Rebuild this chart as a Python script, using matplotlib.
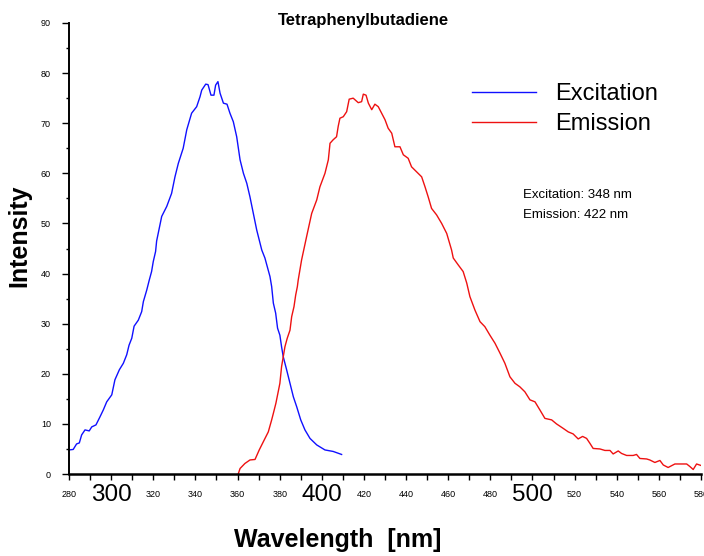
import matplotlib
matplotlib.use('Agg')
import matplotlib.pyplot as plt
from matplotlib.ticker import MultipleLocator

plt.rcParams['font.family'] = ['Liberation Sans', 'DejaVu Sans']

# ==================== data ====================
ex_wl = [280.0, 282.0, 283.6, 284.9, 286.0, 287.6, 289.6, 290.8, 292.8, 294.7,
         296.3, 297.9, 300.3, 301.8, 303.9, 305.8, 307.4, 308.5, 309.8, 310.9,
         312.9, 314.5, 315.3, 316.9, 318.1, 319.2, 320.0, 321.1, 321.6, 324.0,
         326.4, 328.7, 330.3, 331.9, 334.2, 335.9, 338.2, 340.6, 342.2, 343.0,
         344.9, 346.0, 347.4, 348.8, 349.6, 350.7, 351.7, 353.3, 355.0, 356.4,
         358.0, 359.6, 361.2, 362.8, 364.4, 365.9, 367.5, 369.1, 371.5, 373.0,
         374.1, 375.4, 376.2, 377.0, 378.1, 379.0, 380.1, 380.9, 381.7, 383.3,
         384.9, 386.5, 388.1, 390.0, 392.0, 394.4, 397.6, 401.5, 405.4, 409.4]
ex_int = [4.8, 4.9, 6.0, 6.2, 7.8, 8.8, 8.6, 9.4, 9.8, 11.4,
          12.8, 14.4, 15.8, 18.8, 20.8, 22.1, 23.8, 25.7, 27.1, 29.5,
          30.7, 32.4, 34.4, 36.7, 38.7, 40.4, 42.4, 44.4, 46.5, 51.4,
          53.4, 56.0, 59.3, 62.0, 65.0, 68.7, 72.0, 73.3, 75.3, 76.6,
          77.8, 77.7, 75.6, 75.6, 77.6, 78.3, 76.0, 74.0, 73.8, 72.0,
          70.3, 67.3, 62.7, 60.0, 58.0, 55.3, 52.0, 48.7, 44.7, 43.1,
          41.4, 39.4, 37.4, 34.1, 32.1, 29.1, 27.7, 25.4, 23.4, 20.8,
          18.1, 15.4, 13.4, 10.8, 8.8, 7.1, 5.8, 4.8, 4.5, 3.9]

em_wl = [360.4, 361.2, 363.5, 365.9, 368.3, 370.3, 372.2, 374.6, 376.2, 377.0,
         378.2, 379.3, 380.1, 380.9, 381.7, 382.5, 383.6, 384.9, 385.7, 386.8,
         387.6, 388.4, 388.8, 389.6, 390.4, 392.8, 395.2, 397.6, 399.1, 401.5,
         403.1, 403.9, 405.4, 407.0, 407.8, 408.6, 410.2, 411.8, 413.0, 414.9,
         417.3, 418.9, 419.7, 421.0, 422.1, 423.7, 425.2, 426.8, 428.4, 430.0,
         431.5, 433.2, 434.7, 437.1, 438.7, 441.0, 442.6, 445.0, 447.4, 449.0,
         450.5, 452.1, 454.5, 456.9, 459.3, 461.6, 462.4, 464.8, 467.1, 468.8,
         470.3, 472.7, 475.1, 477.4, 479.8, 482.2, 484.6, 486.9, 489.3, 491.7,
         494.0, 496.4, 498.8, 501.2, 503.5, 505.9, 509.1, 511.4, 514.6, 517.0,
         519.3, 521.7, 523.8, 525.7, 527.3, 528.8, 532.0, 534.4, 536.8, 538.3,
         540.7, 542.3, 544.7, 547.8, 549.4, 551.0, 554.2, 555.7, 558.1, 560.5,
         562.1, 564.4, 567.6, 573.2, 574.7, 576.3, 577.9, 580.0]
em_int = [0.1, 1.1, 2.1, 2.8, 2.9, 4.8, 6.4, 8.4, 10.8, 12.1,
          14.1, 16.4, 18.1, 21.4, 23.4, 25.4, 27.1, 28.7, 31.4, 33.4,
          35.7, 37.4, 38.7, 40.7, 42.7, 47.4, 52.0, 54.7, 57.3, 60.0,
          62.7, 66.0, 66.7, 67.3, 69.4, 71.0, 71.3, 72.3, 74.8, 75.0,
          74.1, 74.3, 75.8, 75.6, 74.0, 72.7, 73.8, 73.3, 72.0, 70.7,
          69.0, 68.0, 65.3, 65.3, 63.7, 63.0, 61.3, 60.3, 59.3, 57.3,
          55.3, 53.0, 51.7, 50.0, 48.0, 44.7, 43.1, 41.7, 40.4, 38.1,
          35.4, 32.7, 30.4, 29.4, 27.7, 26.1, 24.1, 22.1, 19.4, 18.1,
          17.4, 16.4, 14.8, 14.4, 12.8, 11.1, 10.8, 10.0, 9.1, 8.4,
          8.0, 7.0, 7.5, 7.1, 6.1, 5.1, 5.0, 4.7, 4.7, 4.0,
          4.6, 4.1, 3.7, 3.7, 3.9, 3.1, 3.0, 2.8, 2.3, 2.7,
          1.8, 1.3, 2.0, 2.0, 1.5, 0.9, 2.0, 1.7]

x_ticks = list(range(280, 581, 20))
big_ticks = [300, 400, 500]
y_ticks = list(range(0, 91, 10))

# ==================== plot ====================
fig = plt.figure(figsize=(7.04, 5.56), dpi=100)
ax = fig.add_axes([69 / 704, 82 / 556, 632 / 704, 451 / 556])

ax.plot(ex_wl, ex_int, color='#1010ff', lw=1.0, label='Excitation')
ax.plot(em_wl, em_int, color='#ee1111', lw=1.0, label='Emission')

ax.set_xlim(280, 580)
ax.set_ylim(0, 90)
ax.spines['top'].set_visible(False)
ax.spines['right'].set_visible(False)
ax.spines['left'].set_linewidth(1.4)
ax.spines['bottom'].set_linewidth(1.8)

ax.set_xticks(x_ticks)
ax.set_xticklabels([str(t) for t in x_ticks])
ax.xaxis.set_minor_locator(MultipleLocator(10))
ax.set_yticks(y_ticks)
ax.yaxis.set_minor_locator(MultipleLocator(5))
ax.tick_params(axis='x', which='both', direction='out', length=4, width=1,
               labelsize=6.5, pad=11)
ax.tick_params(axis='y', which='major', direction='out', length=5, width=1,
               labelsize=6.5, pad=8)
ax.tick_params(axis='y', which='minor', direction='out', length=2, width=1)
for t, lab in zip(x_ticks, ax.get_xticklabels()):
    lab.set_verticalalignment('center')
    if t in big_ticks:
        lab.set_fontsize(17.5)

ax.set_xlabel('Wavelength  [nm]', fontsize=18, fontweight='bold')
ax.xaxis.set_label_coords((338 - 69) / 632, (474 - 540) / 451)
ax.xaxis.label.set_verticalalignment('center')
ax.set_ylabel('Intensity', fontsize=18, fontweight='bold')
ax.yaxis.set_label_coords((19 - 69) / 632, (474 - 236) / 451)
ax.yaxis.label.set_verticalalignment('center')

fig.text(363 / 704, 1 - 20 / 556, 'Tetraphenylbutadiene', fontsize=12,
         fontweight='bold', ha='center', va='center')

ax.legend(loc='upper left', bbox_to_anchor=(472 / 704, 1 - 83 / 556),
          bbox_transform=fig.transFigure, frameon=False, fontsize=17,
          handlelength=2.7, handletextpad=0.8, labelspacing=0.35,
          borderpad=0, borderaxespad=0)

fig.text(523 / 704, 1 - 198 / 556, 'Excitation: 348 nm', fontsize=9.5,
         ha='left', va='baseline')
fig.text(523 / 704, 1 - 218 / 556, 'Emission: 422 nm', fontsize=9.5,
         ha='left', va='baseline')

fig.savefig('out.png', dpi=100)
